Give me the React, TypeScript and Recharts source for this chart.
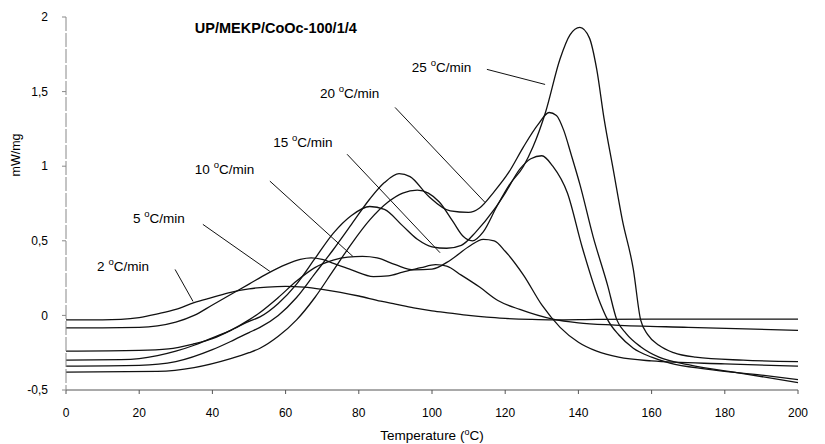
import {
  LineChart,
  Line,
  XAxis,
  YAxis,
  ReferenceLine,
  ReferenceDot,
  Label,
} from "recharts";

const FONT = "'Liberation Sans', Arial, Helvetica, sans-serif";

// temperature (°C) and heat flow (mW/mg)
const temp2 = [0, 10, 15, 20, 25, 30, 35, 40, 45, 50, 55, 60, 65, 70, 75, 80, 86, 90, 95, 100, 105, 110, 115, 120, 127, 133, 145, 160, 180, 200];
const mw2 = [-0.03, -0.03, -0.027, -0.015, 0.01, 0.04, 0.085, 0.12, 0.155, 0.178, 0.19, 0.195, 0.19, 0.175, 0.155, 0.13, 0.095, 0.075, 0.05, 0.03, 0.015, 0.0, -0.012, -0.02, -0.027, -0.03, -0.027, -0.025, -0.025, -0.025];

const temp5 = [0, 10, 20, 25, 30, 35, 40, 45, 50, 55, 60, 64, 67, 70, 74, 78, 84, 88, 92, 97, 101, 104, 108, 113, 118, 124, 133, 140, 150, 170, 200];
const mw5 = [-0.083, -0.083, -0.08, -0.07, -0.045, 0.0, 0.07, 0.14, 0.21, 0.28, 0.34, 0.375, 0.385, 0.375, 0.34, 0.305, 0.26, 0.265, 0.29, 0.32, 0.34, 0.33, 0.27, 0.19, 0.1, 0.04, -0.025, -0.05, -0.065, -0.08, -0.1];

const temp10 = [0, 20, 28, 35, 40, 45, 50, 53, 58, 63, 68, 73, 77, 81, 85, 90, 95, 100, 105, 110, 114, 117, 120, 125, 130, 135, 140, 145, 151, 160, 180, 200];
const mw10 = [-0.24, -0.235, -0.225, -0.19, -0.155, -0.1, -0.03, 0.02, 0.12, 0.23, 0.32, 0.37, 0.39, 0.395, 0.385, 0.34, 0.305, 0.31, 0.37, 0.46, 0.51, 0.5, 0.43, 0.27, 0.07, -0.08, -0.18, -0.24, -0.28, -0.305, -0.325, -0.34];

const temp15 = [0, 15, 20, 25, 30, 35, 40, 45, 50, 53, 58, 63, 68, 73, 78, 83, 87, 92, 96, 100, 104, 108, 112, 117, 120, 124, 127, 130, 133, 137, 141, 146, 148, 151, 155, 160, 165, 175, 190, 200];
const mw15 = [-0.3, -0.297, -0.29, -0.27, -0.24, -0.2, -0.15, -0.1, -0.04, -0.01, 0.08, 0.21, 0.38, 0.55, 0.67, 0.73, 0.71, 0.6, 0.51, 0.46, 0.45, 0.47, 0.56, 0.71, 0.82, 0.98, 1.05, 1.07, 1.0, 0.82, 0.46, 0.08, -0.03, -0.13, -0.22, -0.28, -0.32, -0.36, -0.4, -0.43];

const temp20 = [0, 20, 30, 40, 45, 50, 53, 58, 63, 68, 73, 78, 83, 87, 91, 94, 99, 105, 110, 113, 117, 121, 125, 129, 132, 134, 136, 138, 140.5, 144, 148, 150.5, 153, 157, 162, 170, 185, 200];
const mw20 = [-0.34, -0.335, -0.31, -0.23, -0.175, -0.115, -0.08, 0.0, 0.12, 0.28, 0.44, 0.61, 0.78, 0.89, 0.95, 0.93, 0.8, 0.7, 0.69, 0.72, 0.83, 0.96, 1.13, 1.28, 1.36, 1.34, 1.24, 1.08, 0.87, 0.53, 0.2, -0.03, -0.12, -0.21, -0.28, -0.33, -0.39, -0.45];

const temp25 = [0, 25, 35, 45, 50, 53, 58, 63, 68, 73, 78, 83, 88, 92, 96, 99, 102, 105.7, 108.5, 111, 114, 117.7, 121, 125, 127.6, 131, 135, 137.7, 140.4, 143, 145, 147, 149.5, 152, 155, 157, 159, 162, 166, 172, 185, 200];
const mw25 = [-0.38, -0.375, -0.35, -0.29, -0.25, -0.22, -0.14, -0.03, 0.12, 0.3, 0.48, 0.64, 0.76, 0.82, 0.84, 0.82, 0.76, 0.63, 0.53, 0.5, 0.56, 0.73, 0.87, 1.0, 1.13, 1.36, 1.72, 1.88, 1.93, 1.86, 1.65, 1.32, 0.98, 0.64, 0.31, -0.03, -0.13, -0.2, -0.25, -0.28, -0.3, -0.31];

const rates = ["2", "5", "10", "15", "20", "25"];
const rateTemps = [temp2, temp5, temp10, temp15, temp20, temp25];
const rateValues = [mw2, mw5, mw10, mw15, mw20, mw25];

const xTicks = [0, 20, 40, 60, 80, 100, 120, 140, 160, 180, 200];
const yTicks = [-0.5, 0, 0.5, 1, 1.5, 2];

// where each rate label sits and where its pointer runs (data units)
const labelT = [8.5, 18.3, 35.2, 56.6, 69.4, 94.5];
const labelV = [0.3, 0.62, 0.95, 1.126, 1.454, 1.63];
const pointerT0 = [29.8, 37.4, 55.7, 76.8, 89.9, 115];
const pointerV0 = [0.308, 0.61, 0.9, 1.08, 1.394, 1.649];
const pointerT1 = [34.7, 55.7, 78.4, 102.2, 114.5, 130.9];
const pointerV1 = [0.094, 0.295, 0.395, 0.42, 0.757, 1.548];

const title = "UP/MEKP/CoOc-100/1/4";

const series = rates.map((rate, i) => ({
  rate,
  points: rateTemps[i].map((t, j) => ({ t, v: rateValues[i][j] })),
}));

const XTitle = (props: any) => {
  const vb = props.viewBox;
  return (
    <text
      x={vb.x + vb.width / 2}
      y={vb.y + 50}
      textAnchor="middle"
      fontFamily={FONT}
      fontSize={13.5}
      fill="#000"
    >
      Temperature (<tspan dy={-5} fontSize={9}>o</tspan>
      <tspan dy={5}>C)</tspan>
    </text>
  );
};

const YTitle = (props: any) => {
  const vb = props.viewBox;
  const x = vb.x + 10;
  const y = vb.y + 138;
  return (
    <text
      x={x}
      y={y}
      transform={`rotate(-90, ${x}, ${y})`}
      textAnchor="middle"
      dominantBaseline="central"
      fontFamily={FONT}
      fontSize={12.5}
      fill="#000"
    >
      mW/mg
    </text>
  );
};

export default function App() {
  return (
    <div style={{ position: "absolute", left: 0, top: 0, width: 825, height: 444, background: "#fff" }}>
      <LineChart width={825} height={444} margin={{ top: 17, right: 27, bottom: 4, left: 6 }}>
        <XAxis
          type="number"
          dataKey="t"
          domain={[0, 200]}
          ticks={xTicks}
          height={50}
          tickSize={4}
          tickMargin={14}
          stroke="#555"
          tick={{ fill: "#000", fontSize: 12, fontFamily: FONT }}
        >
          <Label content={XTitle} />
        </XAxis>
        <YAxis
          type="number"
          dataKey="v"
          domain={[-0.5, 2]}
          ticks={yTicks}
          width={60}
          tickSize={4}
          tickMargin={14}
          axisLine={{ stroke: "#888", strokeDasharray: "14 2" }}
          tickLine={{ stroke: "#888" }}
          tick={{ fill: "#000", fontSize: 12, fontFamily: FONT }}
          tickFormatter={(v: number) => String(v).replace(".", ",")}
        >
          <Label content={YTitle} />
        </YAxis>

        {series.map((s) => (
          <Line
            key={s.rate}
            data={s.points}
            dataKey="v"
            type="monotone"
            stroke="#111"
            strokeWidth={1.3}
            dot={false}
            activeDot={false}
            isAnimationActive={false}
          />
        ))}

        {rates.map((rate, i) => (
          <ReferenceLine
            key={"p" + rate}
            segment={[
              { x: pointerT0[i], y: pointerV0[i] },
              { x: pointerT1[i], y: pointerV1[i] },
            ]}
            stroke="#111"
            strokeWidth={1}
          />
        ))}

        {rates.map((rate, i) => (
          <ReferenceDot
            key={"l" + rate}
            x={labelT[i]}
            y={labelV[i]}
            r={0}
            shape={(p: any) => (
              <text x={p.cx} y={p.cy} fontFamily={FONT} fontSize={13.5} fill="#000">
                {rate} <tspan dy={-6} fontSize={9.5}>o</tspan>
                <tspan dy={6}>C/min</tspan>
              </text>
            )}
          />
        ))}

        <ReferenceDot
          x={35.2}
          y={1.895}
          r={0}
          shape={(p: any) => (
            <text x={p.cx} y={p.cy} fontFamily={FONT} fontSize={14.5} fontWeight="bold" fill="#000">
              {title}
            </text>
          )}
        />
      </LineChart>
    </div>
  );
}
